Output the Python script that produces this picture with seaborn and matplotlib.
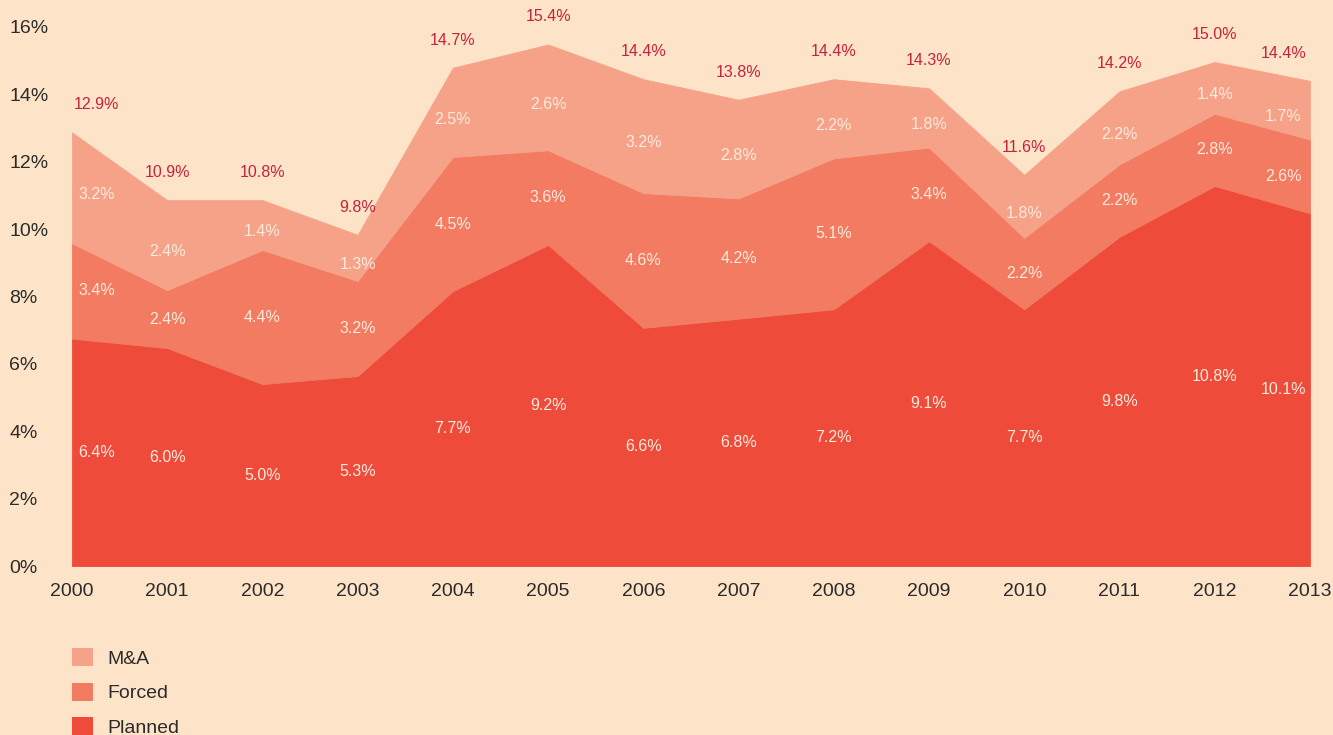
import matplotlib
matplotlib.use("Agg")
import matplotlib.pyplot as plt
from matplotlib.patches import Patch
import pandas as pd
import seaborn as sns

# 年份
years = list(range(2000, 2014))

# 面积高度（按图形读取）
planned = [6.75, 6.47, 5.40, 5.64, 8.16, 9.53, 7.07, 7.34, 7.62, 9.64, 7.62, 9.77, 11.28, 10.47]
forced = [2.83, 1.72, 3.98, 2.82, 3.98, 2.81, 4.00, 3.57, 4.48, 2.78, 2.12, 2.15, 2.14, 2.19]
ma = [3.29, 2.67, 1.48, 1.37, 2.65, 3.14, 3.38, 2.93, 2.35, 1.76, 1.87, 2.17, 1.54, 1.74]

# 标注文字
planned_labels = [6.4, 6.0, 5.0, 5.3, 7.7, 9.2, 6.6, 6.8, 7.2, 9.1, 7.7, 9.8, 10.8, 10.1]
forced_labels = [3.4, 2.4, 4.4, 3.2, 4.5, 3.6, 4.6, 4.2, 5.1, 3.4, 2.2, 2.2, 2.8, 2.6]
ma_labels = [3.2, 2.4, 1.4, 1.3, 2.5, 2.6, 3.2, 2.8, 2.2, 1.8, 1.8, 2.2, 1.4, 1.7]
total_labels = [12.9, 10.9, 10.8, 9.8, 14.7, 15.4, 14.4, 13.8, 14.4, 14.3, 11.6, 14.2, 15.0, 14.4]

series_names = ["Planned", "Forced", "M&A"]
colors = {"Planned": "#EE4B3B", "Forced": "#F27B62", "M&A": "#F6A289"}
bg = "#FDE3C8"
text_dark = "#2B2B2B"
total_color = "#C8213A"
inner_color = "#FDEBDD"

df = pd.DataFrame({"Planned": planned, "Forced": forced, "M&A": ma}, index=years)

sns.set_theme(style="white")
plt.rcParams["font.family"] = ["Liberation Sans", "DejaVu Sans"]

fig, ax = plt.subplots(figsize=(13.33, 7.35), dpi=100)
fig.patch.set_facecolor(bg)
ax.set_facecolor(bg)
fig.subplots_adjust(left=0.054, right=0.9827, bottom=0.2299, top=0.9633)

polys = ax.stackplot(df.index, *[df[n] for n in series_names],
                     colors=[colors[n] for n in series_names], linewidth=0)
for poly, n in zip(polys, series_names):
    poly.set_edgecolor(colors[n])
    poly.set_linewidth(0.6)

ax.set_xlim(2000, 2013)
ax.set_ylim(0, 16)
ax.set_xticks(years)
ax.set_xticklabels([str(y) for y in years])
yticks = list(range(0, 17, 2))
ax.set_yticks(yticks)
ax.set_yticklabels([f"{v}%" for v in yticks])
ax.tick_params(axis="both", length=0, labelsize=14, colors=text_dark)
ax.tick_params(axis="y", pad=45)
ax.tick_params(axis="x", pad=12)
for t in ax.get_yticklabels():
    t.set_horizontalalignment("left")
sns.despine(ax=ax, left=True, bottom=True)
ax.grid(False)

# 数值标注
shift = {0: 0.26, len(years) - 1: -0.28}
for i, yr in enumerate(years):
    x = yr + shift.get(i, 0)
    p, f, m = planned[i], forced[i], ma[i]
    kw = dict(ha="center", va="center", fontsize=11.5)
    ax.text(x, p / 2, f"{planned_labels[i]:.1f}%", color=inner_color, **kw)
    ax.text(x, p + f / 2, f"{forced_labels[i]:.1f}%", color=inner_color, **kw)
    ax.text(x, p + f + m / 2 - 0.2, f"{ma_labels[i]:.1f}%", color=inner_color, **kw)
    ax.text(x, p + f + m + 0.82, f"{total_labels[i]:.1f}%", color=total_color, **kw)

# 图例
handles = [Patch(facecolor=colors[n], edgecolor="none", label=n) for n in ["M&A", "Forced", "Planned"]]
fig.legend(handles=handles, loc="upper left", bbox_to_anchor=(72 / 1333, 1 - 648 / 735),
           frameon=False, fontsize=14, handlelength=1.08, handleheight=1.08,
           handletextpad=0.72, labelspacing=0.76, borderpad=0, borderaxespad=0,
           labelcolor=text_dark)

fig.savefig("out.png", dpi=100, facecolor=bg)
